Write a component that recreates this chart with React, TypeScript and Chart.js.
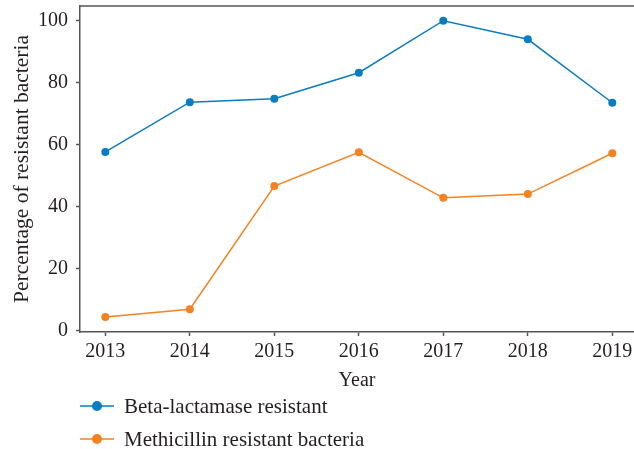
import React, { useEffect, useRef } from "react";
import { Chart, registerables } from "chart.js";

Chart.register(...registerables);

const years = [2013, 2014, 2015, 2016, 2017, 2018, 2019];
const betaLactamase = [57.6, 73.7, 74.8, 83.2, 100, 94.0, 73.5];
const methicillin = [4.3, 6.8, 46.6, 57.5, 42.8, 44.0, 57.2];
const yTicks = [0, 20, 40, 60, 80, 100];
const seriesLabels = ["Beta-lactamase resistant", "Methicillin resistant bacteria"];
const seriesColors = ["#0a7cc0", "#f58220"];

const TEXT = "#231f20";
const AXIS = "#555555";
const FONT = "'Liberation Serif', 'Times New Roman', serif";

const framePlugin = {
  id: "frameAndLegend",
  afterDraw(chart: any) {
    const { ctx, chartArea } = chart;
    ctx.save();
    ctx.strokeStyle = AXIS;
    ctx.lineWidth = 1.5;
    ctx.beginPath();
    ctx.moveTo(chartArea.left, chartArea.top);
    ctx.lineTo(chartArea.right, chartArea.top);
    ctx.stroke();

    const xScale = chart.scales.x;
    const baseY = xScale.bottom + 13;
    const gap = 33;
    chart.data.datasets.forEach((ds: any, i: number) => {
      const cy = baseY + i * gap;
      const x0 = chartArea.left;
      ctx.strokeStyle = ds.borderColor;
      ctx.lineWidth = 1.5;
      ctx.beginPath();
      ctx.moveTo(x0, cy);
      ctx.lineTo(x0 + 34, cy);
      ctx.stroke();
      ctx.fillStyle = ds.borderColor;
      ctx.beginPath();
      ctx.arc(x0 + 17, cy, 5, 0, Math.PI * 2);
      ctx.fill();
      ctx.fillStyle = TEXT;
      ctx.font = `21px ${FONT}`;
      ctx.textBaseline = "middle";
      ctx.textAlign = "left";
      ctx.fillText(ds.label, x0 + 44, cy + 1);
    });
    ctx.restore();
  },
};

export default function App() {
  const ref = useRef<HTMLCanvasElement | null>(null);

  useEffect(() => {
    if (!ref.current) return;
    const makeData = (vals: number[]) => years.map((y, i) => ({ x: y, y: vals[i] }));
    const chart = new Chart(ref.current, {
      type: "line",
      data: {
        datasets: [betaLactamase, methicillin].map((vals, i) => ({
          label: seriesLabels[i],
          data: makeData(vals),
          borderColor: seriesColors[i],
          backgroundColor: seriesColors[i],
          pointBackgroundColor: seriesColors[i],
          pointBorderWidth: 0,
          pointRadius: 4,
          borderWidth: 1.5,
          tension: 0,
          fill: false,
        })),
      },
      options: {
        responsive: false,
        animation: false,
        layout: { autoPadding: false, padding: { top: 6, right: 0, bottom: 56, left: 0 } },
        plugins: {
          legend: { display: false },
          tooltip: { enabled: false },
        },
        scales: {
          x: {
            type: "linear",
            min: 2012.7,
            max: 2019.257,
            afterBuildTicks: (scale: any) => {
              scale.ticks = years.map((v) => ({ value: v }));
            },
            afterFit: (scale: any) => {
              scale.height = 61;
              scale.paddingLeft = 0;
              scale.paddingRight = 0;
            },
            grid: {
              display: true,
              drawOnChartArea: false,
              drawTicks: true,
              tickLength: 4,
              color: AXIS,
              tickWidth: 1.5,
            },
            border: { display: true, color: AXIS, width: 1.5 },
            ticks: {
              color: TEXT,
              font: { family: FONT, size: 20 },
              padding: 4,
              maxRotation: 0,
              callback: (v: any) => String(v),
            },
            title: {
              display: true,
              text: "Year",
              color: TEXT,
              font: { family: FONT, size: 20 },
              padding: { top: 0, bottom: 0 },
            },
          },
          y: {
            type: "linear",
            min: -0.55,
            max: 104.75,
            afterBuildTicks: (scale: any) => {
              scale.ticks = yTicks.map((v) => ({ value: v }));
            },
            afterFit: (scale: any) => {
              scale.width = 80;
              scale.paddingTop = 0;
              scale.paddingBottom = 0;
            },
            grid: {
              display: true,
              drawOnChartArea: false,
              drawTicks: true,
              tickLength: 4,
              color: AXIS,
              tickWidth: 1.5,
            },
            border: { display: true, color: AXIS, width: 1.5 },
            ticks: {
              color: TEXT,
              font: { family: FONT, size: 20 },
              padding: 8,
            },
            title: {
              display: true,
              text: "Percentage of resistant bacteria",
              color: TEXT,
              font: { family: FONT, size: 21.5 },
              padding: { top: 9, bottom: 0 },
            },
          },
        },
      },
      plugins: [framePlugin],
    });
    return () => chart.destroy();
  }, []);

  return (
    <div style={{ position: "absolute", left: 0, top: 0, width: 634, height: 449, background: "#fff" }}>
      <canvas ref={ref} width={634} height={449} />
    </div>
  );
}
